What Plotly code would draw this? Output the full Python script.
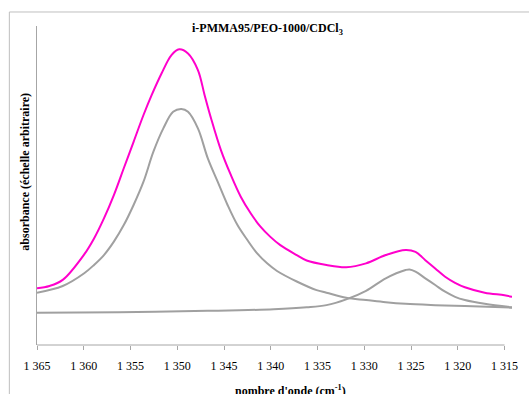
import plotly.graph_objects as go

wn_exp = [1365.0, 1363.66, 1362.25, 1359.95, 1358.9, 1357.84, 1356.78, 1355.72, 1354.67,
          1353.61, 1352.73, 1351.67, 1350.62, 1349.8, 1348.85, 1347.79, 1347.08, 1346.39,
          1345.33, 1344.27, 1343.21, 1342.15, 1341.1, 1340.04, 1338.98, 1337.22, 1336.16,
          1334.04, 1331.93, 1329.81, 1327.7, 1325.58, 1324.52, 1323.47, 1322.41, 1321.35,
          1320.29, 1319.24, 1317.12, 1315.0, 1314.19]
abs_exp = [0.178, 0.185, 0.204, 0.284, 0.334, 0.397, 0.470, 0.554, 0.637,
           0.721, 0.784, 0.852, 0.909, 0.927, 0.914, 0.862, 0.784, 0.711,
           0.611, 0.533, 0.465, 0.413, 0.371, 0.339, 0.313, 0.282, 0.265,
           0.251, 0.244, 0.256, 0.282, 0.298, 0.292, 0.266, 0.240, 0.214,
           0.195, 0.181, 0.164, 0.156, 0.151]

# Component band 1 (gray), peak near 1350
wn_band1 = [1365.0, 1362.25, 1359.95, 1358.9, 1357.84, 1356.78, 1355.72, 1354.67, 1353.61,
            1352.55, 1351.49, 1350.44, 1349.56, 1348.85, 1347.79, 1346.73, 1345.68, 1344.62,
            1343.56, 1342.5, 1341.45, 1340.39, 1339.33, 1337.22, 1335.1, 1334.04, 1331.93,
            1329.81, 1327.7, 1325.58, 1322.41, 1319.24, 1314.19]
abs_band1 = [0.164, 0.185, 0.225, 0.251, 0.282, 0.324, 0.376, 0.439, 0.512,
             0.606, 0.679, 0.731, 0.740, 0.731, 0.679, 0.585, 0.512, 0.439,
             0.376, 0.329, 0.287, 0.256, 0.232, 0.199, 0.172, 0.164, 0.148,
             0.141, 0.134, 0.129, 0.125, 0.122, 0.117]

# Component band 2 (gray), peak near 1326
wn_band2 = [1365.0, 1356.25, 1346.73, 1339.68, 1336.16, 1334.04, 1331.93, 1329.81, 1327.7,
            1325.58, 1325.16, 1324.52, 1323.47, 1322.41, 1321.35, 1320.29, 1319.24, 1317.12, 1314.19]
abs_band2 = [0.101, 0.103, 0.107, 0.112, 0.118, 0.125, 0.143, 0.170, 0.209,
             0.235, 0.237, 0.230, 0.209, 0.188, 0.167, 0.151, 0.141, 0.129, 0.118]

tick_vals = [1365, 1360, 1355, 1350, 1345, 1340, 1335, 1330, 1325, 1320, 1315]
tick_text = ["1 365", "1 360", "1 355", "1 350", "1 345", "1 340", "1 335", "1 330", "1 325", "1 320", "1 315"]

GRAY = "#A0A0A0"
MAGENTA = "#FF00CC"
AXIS = "#A6A6A6"
FONT = "Liberation Serif"

fig = go.Figure()
for xs, ys, col in [(wn_band2, abs_band2, GRAY), (wn_band1, abs_band1, GRAY), (wn_exp, abs_exp, MAGENTA)]:
    fig.add_trace(go.Scatter(x=xs, y=ys, mode="lines",
                             line=dict(color=col, width=2, shape="spline", smoothing=1.0),
                             showlegend=False, hoverinfo="skip"))

fig.update_layout(
    width=529, height=394,
    margin=dict(l=37, r=11, t=26, b=49),
    paper_bgcolor="white", plot_bgcolor="white",
    font=dict(family=FONT, size=12, color="black"),
    xaxis=dict(range=[1365, 1314.2], tickvals=tick_vals, ticktext=tick_text,
               showgrid=False, zeroline=False, showline=False,
               ticks="outside", ticklen=4, tickcolor=AXIS, tickwidth=1,
               ticklabelstandoff=6,
               tickfont=dict(family=FONT, size=12, color="black")),
    yaxis=dict(range=[0, 1], showticklabels=False, showgrid=False, zeroline=False,
               showline=True, linecolor=AXIS, linewidth=1, ticks=""),
    shapes=[
        dict(type="rect", xref="paper", yref="paper", x0=-0.0582, x1=1.2, y0=-0.3, y1=1.0439,
             line=dict(color="#BFBFBF", width=1), fillcolor="rgba(0,0,0,0)", layer="above"),
        dict(type="line", xref="x", yref="paper", x0=1365, x1=1315, y0=0, y1=0,
             line=dict(color=AXIS, width=1)),
    ],
    annotations=[
        dict(text="<b>i-PMMA95/PEO-1000/CDCl<sub>3</sub></b>", xref="paper", yref="paper",
             x=0.4854, y=0.9906, xanchor="center", yanchor="middle", showarrow=False,
             font=dict(family=FONT, size=12, color="black")),
        dict(text="<b>nombre d'onde (cm<sup>-1</sup>)</b>", xref="paper", yref="paper",
             x=0.5333, y=-0.1411, xanchor="center", yanchor="middle", showarrow=False,
             font=dict(family=FONT, size=12, color="black")),
        dict(text="<b>absorbance (échelle arbitraire)</b>", xref="paper", yref="paper",
             x=-0.02495, y=0.5439, xanchor="center", yanchor="middle", showarrow=False,
             textangle=-90, font=dict(family=FONT, size=12, color="black")),
    ],
)

fig.write_html("out.html", config={"displayModeBar": False},
               post_script="document.body.style.margin='0px';document.body.style.overflow='hidden';")
